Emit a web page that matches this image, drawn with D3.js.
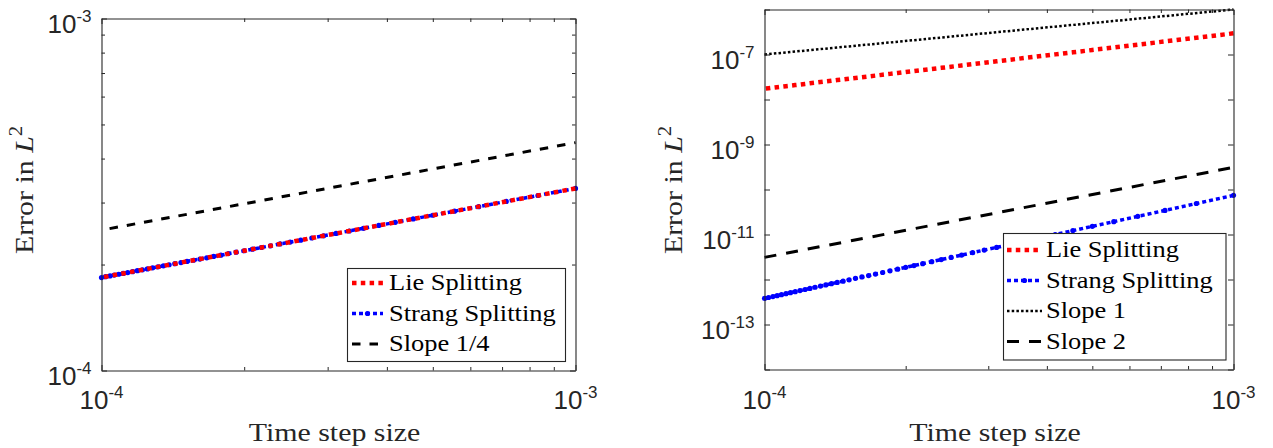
<!DOCTYPE html>
<html>
<head>
<meta charset="utf-8">
<script src="https://cdn.jsdelivr.net/npm/d3@7"></script>
<style>
  body { margin: 0; background: #fff; }
  svg { display: block; }
</style>
</head>
<body>
<svg id="chart" width="1273" height="448"></svg>
<script>
// time step sizes dt = 1/N, N = 1000, 1200, ..., 10000
const stepSizes = [
  1.000e-3, 8.333e-4, 7.143e-4, 6.250e-4, 5.556e-4, 5.000e-4, 4.545e-4, 4.167e-4,
  3.846e-4, 3.571e-4, 3.333e-4, 3.125e-4, 2.941e-4, 2.778e-4, 2.632e-4, 2.500e-4,
  2.381e-4, 2.273e-4, 2.174e-4, 2.083e-4, 2.000e-4, 1.923e-4, 1.852e-4, 1.786e-4,
  1.724e-4, 1.667e-4, 1.613e-4, 1.563e-4, 1.515e-4, 1.471e-4, 1.429e-4, 1.389e-4,
  1.351e-4, 1.316e-4, 1.282e-4, 1.250e-4, 1.220e-4, 1.190e-4, 1.163e-4, 1.136e-4,
  1.111e-4, 1.087e-4, 1.064e-4, 1.042e-4, 1.020e-4, 1.000e-4
];

// left panel: Lie and Strang errors lie on top of each other
const leftErrors = [
  3.290e-4, 3.142e-4, 3.022e-4, 2.921e-4, 2.836e-4, 2.761e-4, 2.695e-4, 2.636e-4,
  2.583e-4, 2.535e-4, 2.491e-4, 2.451e-4, 2.414e-4, 2.379e-4, 2.346e-4, 2.316e-4,
  2.288e-4, 2.261e-4, 2.236e-4, 2.212e-4, 2.189e-4, 2.168e-4, 2.147e-4, 2.127e-4,
  2.109e-4, 2.090e-4, 2.073e-4, 2.057e-4, 2.041e-4, 2.026e-4, 2.011e-4, 1.997e-4,
  1.983e-4, 1.970e-4, 1.957e-4, 1.944e-4, 1.932e-4, 1.921e-4, 1.909e-4, 1.898e-4,
  1.887e-4, 1.877e-4, 1.867e-4, 1.857e-4, 1.847e-4, 1.837e-4
];

// right panel
const lieRight = [
  2.951e-7, 2.358e-7, 1.951e-7, 1.656e-7, 1.432e-7, 1.258e-7, 1.119e-7, 1.006e-7,
  9.11e-8, 8.32e-8, 7.64e-8, 7.06e-8, 6.55e-8, 6.11e-8, 5.71e-8, 5.36e-8,
  5.05e-8, 4.77e-8, 4.52e-8, 4.29e-8, 4.08e-8, 3.88e-8, 3.71e-8, 3.55e-8,
  3.40e-8, 3.26e-8, 3.13e-8, 3.01e-8, 2.90e-8, 2.79e-8, 2.70e-8, 2.60e-8,
  2.52e-8, 2.44e-8, 2.36e-8, 2.29e-8, 2.22e-8, 2.15e-8, 2.09e-8, 2.03e-8,
  1.98e-8, 1.93e-8, 1.88e-8, 1.83e-8, 1.78e-8, 1.74e-8
];
const strangRight = [
  7.41e-11, 4.88e-11, 3.43e-11, 2.53e-11, 1.93e-11, 1.52e-11, 1.22e-11, 9.98e-12,
  8.31e-12, 7.01e-12, 5.99e-12, 5.17e-12, 4.50e-12, 3.95e-12, 3.49e-12, 3.10e-12,
  2.77e-12, 2.49e-12, 2.25e-12, 2.04e-12, 1.86e-12, 1.70e-12, 1.56e-12, 1.43e-12,
  1.32e-12, 1.22e-12, 1.14e-12, 1.06e-12, 9.85e-13, 9.19e-13, 8.61e-13, 8.07e-13,
  7.58e-13, 7.13e-13, 6.72e-13, 6.34e-13, 5.99e-13, 5.67e-13, 5.37e-13, 5.10e-13,
  4.84e-13, 4.60e-13, 4.38e-13, 4.17e-13, 3.98e-13, 3.80e-13
];

// reference slopes
const slopeQuarterX = [1.04e-4, 1e-3];
const slopeQuarterY = [2.53e-4, 4.44e-4];
const slopeOneX = [1e-4, 1e-3];
const slopeOneY = [1e-7, 1e-6];
const slopeTwoX = [1e-4, 1e-3];
const slopeTwoY = [3.1e-12, 3.1e-10];

// ticks
const xMajor = [1e-4, 1e-3];
const xMinor = [2e-4, 3e-4, 4e-4, 5e-4, 6e-4, 7e-4, 8e-4, 9e-4];
const xLabelExp = ["-4", "-3"];
const leftYMajor = [1e-4, 1e-3];
const leftYMinor = [2e-4, 3e-4, 4e-4, 5e-4, 6e-4, 7e-4, 8e-4, 9e-4];
const leftYLabelExp = ["-4", "-3"];
const rightYMajor = [1e-14, 1e-13, 1e-12, 1e-11, 1e-10, 1e-9, 1e-8, 1e-7, 1e-6];
const rightYLabelVals = [1e-13, 1e-11, 1e-9, 1e-7];
const rightYLabelExp = ["-13", "-11", "-9", "-7"];

const ink = "#262626";
const serif = "'Liberation Serif', 'Times New Roman', serif";
const sans = "'Liberation Sans', Arial, sans-serif";
const stretch = 1.15; // Computer Modern is wider than Times

const svg = d3.select("#chart");

const styles = {
  lie: { stroke: "#ff0000", width: 4.5, dash: "4.5,4.3" },
  strang: { stroke: "#0000ff", width: 3.5, dash: "4,3" },
  dotted: { stroke: "#000", width: 2.5, dash: "2.5,2.2" }
};

function sci(sel, exp) {
  sel.append("tspan").text("10");
  sel.append("tspan").attr("dy", -11).attr("font-size", 17).text(exp);
}

function drawPanel(p) {
  const x = d3.scaleLog().domain([1e-4, 1e-3]).range([p.left, p.right]);
  const y = d3.scaleLog().domain(p.yDomain).range([p.bottom, p.top]);
  const g = svg.append("g");
  const line = d3.line().x(d => x(d[0])).y(d => y(d[1]));

  const plot = g.append("g");
  p.series.forEach(s => {
    const pts = s.xs.map((v, i) => [v, s.ys[i]]);
    plot.append("path")
      .attr("d", line(pts))
      .attr("fill", "none")
      .attr("stroke", s.style.stroke)
      .attr("stroke-width", s.style.width)
      .attr("stroke-dasharray", s.style.dash);
    if (s.markers) {
      plot.selectAll(null).data(pts).join("circle")
        .attr("cx", d => x(d[0]))
        .attr("cy", d => y(d[1]))
        .attr("r", 2.6)
        .attr("fill", s.style.stroke);
    }
  });

  // box with inward ticks on all four sides
  const axes = [
    { ax: d3.axisBottom(x), t: `translate(0,${p.bottom})`, vals: [xMajor, xMinor] },
    { ax: d3.axisTop(x), t: `translate(0,${p.top})`, vals: [xMajor, xMinor] },
    { ax: d3.axisLeft(y), t: `translate(${p.left},0)`, vals: [p.yMajor, p.yMinor] },
    { ax: d3.axisRight(y), t: `translate(${p.right},0)`, vals: [p.yMajor, p.yMinor] }
  ];
  axes.forEach(a => {
    [0, 1].forEach(k => {
      if (!a.vals[k].length) return;
      const ag = g.append("g").attr("transform", a.t)
        .call(a.ax.tickValues(a.vals[k]).tickSizeInner(k ? -3.5 : -5.5)
          .tickSizeOuter(0).tickFormat(() => ""));
      ag.selectAll("line").attr("stroke", ink);
      ag.select(".domain").attr("stroke", ink).attr("stroke-width", 1.1);
      if (k) ag.select(".domain").remove();
    });
  });

  // tick labels
  g.selectAll(null).data(xMajor).join("text")
    .attr("x", d => x(d)).attr("y", 409)
    .attr("text-anchor", "middle")
    .style("font-family", sans).attr("font-size", 26).attr("fill", ink)
    .each(function (d, i) { sci(d3.select(this), xLabelExp[i]); });

  g.selectAll(null).data(p.yLabelVals).join("text")
    .attr("x", p.left - 10).attr("y", d => y(d) + 14.5)
    .attr("text-anchor", "end")
    .style("font-family", sans).attr("font-size", 26).attr("fill", ink)
    .each(function (d, i) { sci(d3.select(this), p.yLabelExp[i]); });

  // axis titles
  g.append("g")
    .attr("transform", `translate(${(p.left + p.right) / 2 - 4},441) scale(${stretch},1)`)
    .append("text")
    .attr("text-anchor", "middle")
    .style("font-family", serif).attr("font-size", 26).attr("fill", ink)
    .text("Time step size");

  const yl = g.append("g")
    .attr("transform", `translate(${p.yTitleX},190) rotate(-90) scale(${stretch},1)`)
    .append("text")
    .attr("text-anchor", "middle")
    .style("font-family", serif).attr("font-size", 26).attr("fill", ink);
  yl.append("tspan").text("Error in ");
  yl.append("tspan").attr("font-style", "italic").text("L");
  yl.append("tspan").attr("dy", -11).attr("font-size", 18).text("2");

  // legend
  const lg = g.append("g");
  const L = p.legend;
  lg.append("rect")
    .attr("x", L.x0).attr("y", L.y0)
    .attr("width", L.x1 - L.x0).attr("height", L.y1 - L.y0)
    .attr("fill", "#fff").attr("stroke", ink).attr("stroke-width", 1.1);
  L.items.forEach((it, i) => {
    const by = L.base + i * 30.5;
    const sy = by - 7;
    lg.append("line")
      .attr("x1", L.sx0).attr("x2", L.sx1).attr("y1", sy).attr("y2", sy)
      .attr("stroke", it.style.stroke).attr("stroke-width", it.style.width)
      .attr("stroke-dasharray", it.style.dash);
    if (it.markers) {
      lg.append("circle").attr("cx", (L.sx0 + L.sx1) / 2).attr("cy", sy)
        .attr("r", 2.6).attr("fill", it.style.stroke);
    }
    lg.append("g")
      .attr("transform", `translate(${L.tx},${by}) scale(${stretch},1)`)
      .append("text")
      .style("font-family", serif).attr("font-size", 23).attr("fill", "#000")
      .text(it.label);
  });
}

const dashedLeft = { stroke: "#000", width: 3, dash: "8.5,9" };
const dashedRight = { stroke: "#000", width: 3, dash: "12,10" };

drawPanel({
  left: 101.5, right: 575.5, top: 18.5, bottom: 370.5,
  yDomain: [1e-4, 1e-3],
  yMajor: leftYMajor, yMinor: leftYMinor,
  yLabelVals: leftYMajor, yLabelExp: leftYLabelExp,
  yTitleX: 33,
  series: [
    { xs: slopeQuarterX, ys: slopeQuarterY, style: dashedLeft },
    { xs: stepSizes, ys: leftErrors, style: styles.strang, markers: true },
    { xs: stepSizes, ys: leftErrors, style: styles.lie }
  ],
  legend: {
    x0: 347.5, y0: 268.5, x1: 565.5, y1: 361.5, base: 290,
    sx0: 352, sx1: 383, tx: 389,
    items: [
      { label: "Lie Splitting", style: styles.lie },
      { label: "Strang Splitting", style: styles.strang, markers: true },
      { label: "Slope 1/4", style: dashedLeft }
    ]
  }
});

drawPanel({
  left: 764.5, right: 1233.5, top: 9.5, bottom: 369.5,
  yDomain: [1e-14, 1e-6],
  yMajor: rightYMajor, yMinor: [],
  yLabelVals: rightYLabelVals, yLabelExp: rightYLabelExp,
  yTitleX: 682,
  series: [
    { xs: slopeOneX, ys: slopeOneY, style: styles.dotted },
    { xs: slopeTwoX, ys: slopeTwoY, style: dashedRight },
    { xs: stepSizes, ys: lieRight, style: styles.lie },
    { xs: stepSizes, ys: strangRight, style: styles.strang, markers: true }
  ],
  legend: {
    x0: 1003.5, y0: 233.5, x1: 1226, y1: 360, base: 257,
    sx0: 1007, sx1: 1042, tx: 1046,
    items: [
      { label: "Lie Splitting", style: styles.lie },
      { label: "Strang Splitting", style: styles.strang, markers: true },
      { label: "Slope 1", style: styles.dotted },
      { label: "Slope 2", style: dashedRight }
    ]
  }
});
</script>
</body>
</html>
